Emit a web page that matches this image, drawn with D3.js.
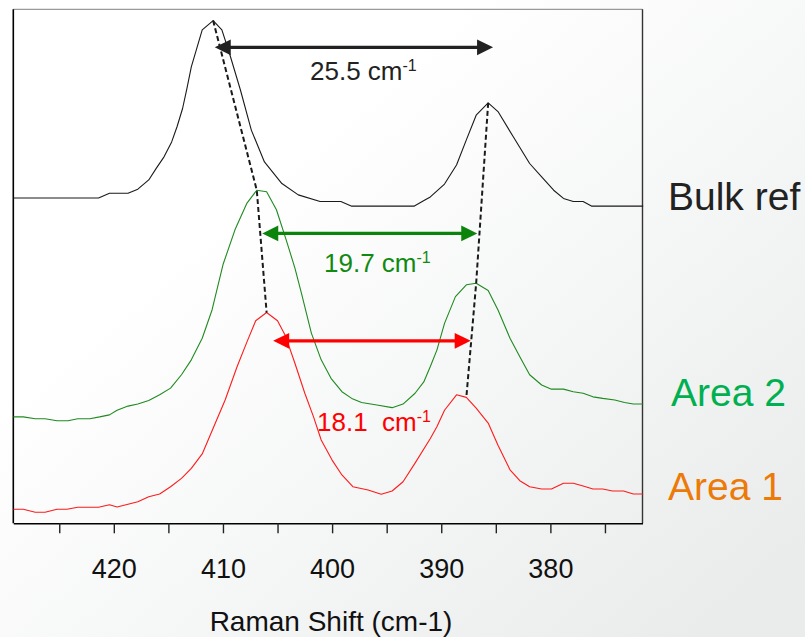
<!DOCTYPE html>
<html>
<head>
<meta charset="utf-8">
<script src="https://cdn.jsdelivr.net/npm/d3@7"></script>
<style>
  html, body { margin: 0; padding: 0; background: #fff; }
  svg { display: block; font-family: "Liberation Sans", Arial, sans-serif; }
</style>
</head>
<body>
<svg id="chart" width="805" height="637"></svg>
<script>
// Raman spectra (offset for clarity), shift in cm-1, intensity in arbitrary units
const bulkShift = [429.2, 421.4, 420.4, 418.7, 417.8, 416.8, 416.1, 415.4, 414.7, 414.2, 413.7, 413.3, 412.9, 412.4, 411.9, 410.9, 410.1, 409.4, 408.4, 407.4, 406.2, 404.6, 403.1, 401.1, 399.2, 398.2, 392.5, 391.5, 391.0, 389.7, 388.6, 387.7, 386.8, 385.7, 384.8, 383.4, 381.9, 380.8, 379.7, 378.8, 377.9, 377.0, 376.2, 371.5];
const bulkIntensity = [63.3, 63.3, 64.2, 64.2, 65.0, 66.8, 69.1, 71.3, 74.2, 77.2, 80.7, 84.6, 88.8, 92.4, 96.0, 97.8, 96.0, 91.4, 84.3, 76.5, 70.3, 66.1, 63.9, 62.6, 62.6, 61.7, 61.7, 62.9, 63.5, 66.0, 69.7, 74.6, 79.4, 81.8, 80.1, 75.2, 70.0, 67.4, 64.8, 63.2, 62.6, 62.6, 61.7, 61.7];

const area2Shift = [429.2, 428.3, 427.2, 426.3, 425.2, 424.2, 423.3, 422.2, 421.3, 420.4, 419.7, 418.7, 417.8, 416.8, 415.8, 414.8, 413.8, 412.9, 411.9, 411.0, 410.0, 408.9, 407.8, 406.9, 406.0, 405.1, 404.2, 403.4, 402.8, 401.9, 401.0, 400.1, 399.1, 398.2, 397.3, 395.9, 394.5, 393.5, 392.4, 391.6, 391.0, 390.4, 389.7, 388.7, 387.7, 386.8, 385.7, 384.8, 383.7, 382.8, 381.9, 380.8, 379.9, 378.8, 377.9, 377.0, 376.1, 375.2, 374.1, 373.2, 372.4, 371.5];
const area2Intensity = [20.7, 20.7, 20.35, 20.35, 19.96, 19.96, 20.35, 20.35, 20.7, 21.1, 22.0, 22.8, 23.2, 23.9, 25.0, 26.3, 28.9, 31.8, 36.0, 41.5, 50.3, 57.1, 62.3, 64.8, 64.5, 61.0, 55.1, 49.6, 44.7, 37.0, 31.8, 28.2, 25.6, 24.3, 23.5, 23.0, 22.5, 23.2, 25.3, 27.5, 30.5, 33.7, 38.9, 44.1, 46.4, 46.7, 45.3, 41.5, 36.0, 32.4, 28.9, 26.9, 26.1, 26.1, 25.6, 25.3, 24.6, 24.3, 24.0, 23.5, 23.2, 23.2];

const area1Shift = [429.2, 428.3, 427.2, 426.3, 425.2, 424.3, 423.3, 421.4, 420.4, 419.7, 418.7, 417.8, 416.8, 415.8, 414.8, 413.8, 412.9, 411.9, 410.9, 409.8, 408.7, 407.8, 407.0, 406.0, 405.0, 404.3, 403.4, 402.5, 401.7, 401.0, 400.0, 399.1, 398.1, 396.7, 395.5, 394.5, 393.5, 392.4, 391.0, 390.4, 389.7, 388.6, 387.7, 386.8, 385.7, 384.8, 383.7, 382.8, 381.9, 380.8, 379.9, 378.8, 377.9, 377.0, 376.1, 375.2, 374.3, 373.3, 372.4, 371.5];
const area1Intensity = [2.72, 2.72, 2.14, 2.14, 2.72, 2.72, 3.11, 3.11, 3.62, 3.17, 3.70, 4.20, 5.18, 5.70, 7.12, 8.75, 10.7, 13.5, 18.5, 24.0, 30.5, 35.3, 39.4, 41.0, 39.4, 36.6, 31.1, 25.3, 20.7, 16.2, 12.3, 9.40, 7.12, 6.48, 5.64, 6.28, 8.09, 11.7, 16.5, 18.8, 22.0, 25.0, 24.5, 22.4, 19.5, 15.2, 10.4, 8.29, 7.12, 6.67, 6.67, 7.78, 7.78, 7.26, 6.67, 6.67, 6.28, 6.28, 5.70, 5.70];

// Peak positions joined by the dashed guide lines (bulk, area 2, area 1)
const highPeakShift = [410.9, 406.9, 406.0];
const highPeakIntensity = [97.8, 64.8, 41.0];
const lowPeakShift = [385.7, 386.8, 387.7];
const lowPeakIntensity = [81.8, 46.7, 24.5];

// Peak separations (cm-1), where each arrow starts, and the intensity level it sits at
const separation = [25.5, 19.7, 18.1];
const separationText = ["25.5 cm", "19.7 cm", "18.1  cm"];
const arrowFrom = [410.75, 406.4, 405.4];
const arrowLevel = [92.6, 56.4, 35.5];

const seriesNames = ["Bulk ref", "Area 2", "Area 1"];

const tickValues = [425, 420, 415, 410, 405, 400, 395, 390, 385, 380, 375];
const xDomain = [429.21, 371.56];
const yDomain = [0, 100];
const axisTitle = "Raman Shift (cm-1)";

// ---- layout ----
const W = 805, H = 637;
const plot = { left: 13.3, right: 642.5, top: 9.3, bottom: 523.3 };
const lineColors = ["#1a1a1a", "#1f8a1f", "#ff1a1a"];
const arrowColors = ["#222222", "#0b840b", "#ff0000"];
const textColors = ["#222222", "#118a11", "#ff0000"];
const nameColors = ["#222222", "#00b050", "#ec7a08"];
const labelPos = [[310, 80], [324, 272], [317, 431]];
const namePos = [[668, 210], [671, 406], [668, 500]];

const svg = d3.select("#chart");

// soft page background
const defs = svg.append("defs");
const grad = defs.append("linearGradient")
  .attr("id", "bg").attr("x1", 0.35).attr("y1", 0.25).attr("x2", 1).attr("y2", 0.85);
grad.append("stop").attr("offset", "0%").attr("stop-color", "#ffffff");
grad.append("stop").attr("offset", "100%").attr("stop-color", "#eaecec");
svg.append("rect").attr("width", W).attr("height", H).attr("fill", "url(#bg)");

const x = d3.scaleLinear().domain(xDomain).range([plot.left, plot.right]);
const y = d3.scaleLinear().domain(yDomain).range([plot.bottom, plot.top]);

// frame
svg.append("line").attr("x1", plot.left).attr("x2", plot.right)
  .attr("y1", plot.top).attr("y2", plot.top)
  .attr("stroke", "#999").attr("stroke-width", 1.2);
svg.append("line").attr("x1", plot.right).attr("x2", plot.right)
  .attr("y1", plot.top).attr("y2", plot.bottom)
  .attr("stroke", "#333").attr("stroke-width", 1.4);
svg.append("line").attr("x1", plot.left).attr("x2", plot.left)
  .attr("y1", plot.top).attr("y2", plot.bottom)
  .attr("stroke", "#000").attr("stroke-width", 1.6);

// x axis
const xAxis = d3.axisBottom(x)
  .tickValues(tickValues)
  .tickSize(10)
  .tickSizeOuter(0)
  .tickPadding(26)
  .tickFormat(d => (d % 10 === 0 ? d : ""));
const gx = svg.append("g").attr("transform", `translate(0,${plot.bottom})`).call(xAxis);
gx.select(".domain").attr("stroke", "#000").attr("stroke-width", 1.6);
gx.selectAll(".tick line").attr("stroke", "#222").attr("stroke-width", 1.4);
gx.selectAll(".tick text")
  .attr("fill", "#111")
  .style("font-family", '"Liberation Sans", Arial, sans-serif')
  .style("font-size", "27px");

svg.append("text")
  .attr("x", 331).attr("y", 631)
  .attr("text-anchor", "middle")
  .attr("fill", "#111")
  .style("font-size", "28px")
  .text(axisTitle);

// spectra
const line = d3.line().x(d => x(d[0])).y(d => y(d[1]));
const spectra = [
  d3.zip(bulkShift, bulkIntensity),
  d3.zip(area2Shift, area2Intensity),
  d3.zip(area1Shift, area1Intensity)
];
svg.append("g").selectAll("path")
  .data(spectra)
  .join("path")
  .attr("d", line)
  .attr("fill", "none")
  .attr("stroke", (d, i) => lineColors[i])
  .attr("stroke-width", 1.1)
  .attr("stroke-linejoin", "round");

// dashed peak guides
[d3.zip(highPeakShift, highPeakIntensity), d3.zip(lowPeakShift, lowPeakIntensity)].forEach(pts => {
  svg.append("path")
    .attr("d", line(pts))
    .attr("fill", "none")
    .attr("stroke", "#1a1a1a")
    .attr("stroke-width", 2)
    .attr("stroke-dasharray", "5,3");
});

// double-headed separation arrows
const headLen = 16, headHalf = 7.8;
separation.forEach((s, i) => {
  const xa = x(arrowFrom[i]);
  const xb = x(arrowFrom[i] - s);
  const ya = y(arrowLevel[i]);
  const g = svg.append("g").attr("fill", arrowColors[i]).attr("stroke", arrowColors[i]);
  g.append("line")
    .attr("x1", xa + headLen - 1).attr("x2", xb - headLen + 1)
    .attr("y1", ya).attr("y2", ya)
    .attr("stroke-width", 3.2);
  g.append("path")
    .attr("stroke", "none")
    .attr("d", `M${xa},${ya}L${xa + headLen},${ya - headHalf}L${xa + headLen},${ya + headHalf}Z`);
  g.append("path")
    .attr("stroke", "none")
    .attr("d", `M${xb},${ya}L${xb - headLen},${ya - headHalf}L${xb - headLen},${ya + headHalf}Z`);

  const t = svg.append("text")
    .attr("x", labelPos[i][0]).attr("y", labelPos[i][1])
    .attr("fill", textColors[i])
    .style("font-size", "26px")
    .style("white-space", "pre")
    .attr("xml:space", "preserve");
  t.append("tspan").text(separationText[i]);
  t.append("tspan").attr("dy", -9).style("font-size", "16px").text("-1");
});

// series names
svg.append("g").selectAll("text")
  .data(seriesNames)
  .join("text")
  .attr("x", (d, i) => namePos[i][0])
  .attr("y", (d, i) => namePos[i][1])
  .attr("fill", (d, i) => nameColors[i])
  .style("font-size", "39px")
  .text(d => d);
</script>
</body>
</html>
